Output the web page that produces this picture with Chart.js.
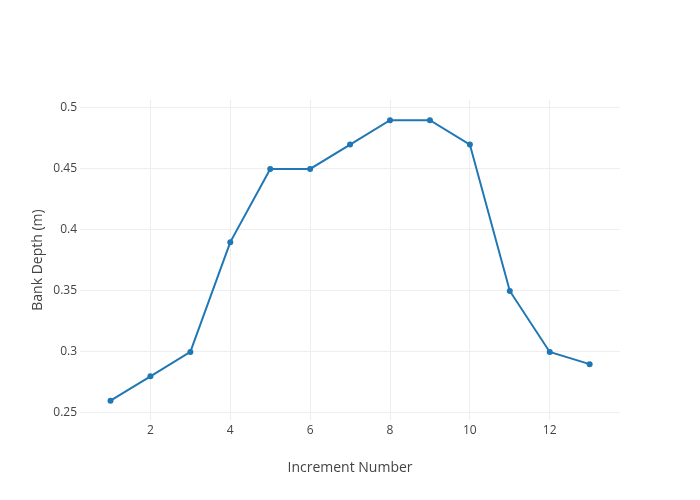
<!DOCTYPE html>
<html>
<head>
<meta charset="utf-8">
<script src="https://cdn.jsdelivr.net/npm/chart.js@4"></script>
<style>
  html, body { margin: 0; padding: 0; background: #fff; }
  #wrap { width: 700px; height: 500px; }
</style>
</head>
<body>
<div id="wrap"><canvas id="depthChart" width="700" height="500"></canvas></div>
<script>
// bank depth per increment
const increments = [1, 2, 3, 4, 5, 6, 7, 8, 9, 10, 11, 12, 13];
const bankDepth = [0.26, 0.28, 0.30, 0.39, 0.45, 0.45, 0.47, 0.49, 0.49, 0.47, 0.35, 0.30, 0.29];
const xTicks = [2, 4, 6, 8, 10, 12];
const yTicks = [0.25, 0.3, 0.35, 0.4, 0.45, 0.5];

const points = increments.map((x, i) => ({ x: x, y: bankDepth[i] }));

Chart.defaults.font.family = '"Open Sans", sans-serif';
Chart.defaults.color = '#444';

const ctx = document.getElementById('depthChart').getContext('2d');
new Chart(ctx, {
    type: 'line',
    data: {
        datasets: [{
            data: points,
            borderColor: '#1f77b4',
            backgroundColor: '#1f77b4',
            borderWidth: 2,
            pointRadius: 3,
            pointBorderWidth: 0,
            pointHoverRadius: 3,
            tension: 0,
            fill: false
        }]
    },
    options: {
        responsive: false,
        animation: false,
        layout: { padding: { top: 100, right: 80, bottom: 0, left: 0 } },
        plugins: { legend: { display: false }, tooltip: { enabled: false } },
        scales: {
            x: {
                type: 'linear',
                min: 0.236,
                max: 13.76,
                afterBuildTicks: s => { s.ticks = xTicks.map(v => ({ value: v })); },
                afterFit: s => { s.height = 80; },
                border: { display: false },
                grid: { color: '#eeeeee', lineWidth: 1, drawTicks: false },
                ticks: { padding: 3, font: { size: 12 }, maxRotation: 0, callback: v => String(v) },
                title: {
                    display: true,
                    text: 'Increment Number',
                    font: { size: 14 },
                    padding: { top: 24, bottom: 24 }
                }
            },
            y: {
                type: 'linear',
                min: 0.2442,
                max: 0.5065,
                afterBuildTicks: s => { s.ticks = yTicks.map(v => ({ value: v })); },
                afterFit: s => { s.width = 80; },
                border: { display: false },
                grid: { color: '#eeeeee', lineWidth: 1, drawTicks: false },
                ticks: { padding: 3, font: { size: 12 }, callback: v => String(v) },
                title: {
                    display: true,
                    text: 'Bank Depth (m)',
                    font: { size: 14 },
                    padding: { top: 30, bottom: 30 }
                }
            }
        }
    }
});
</script>
</body>
</html>
